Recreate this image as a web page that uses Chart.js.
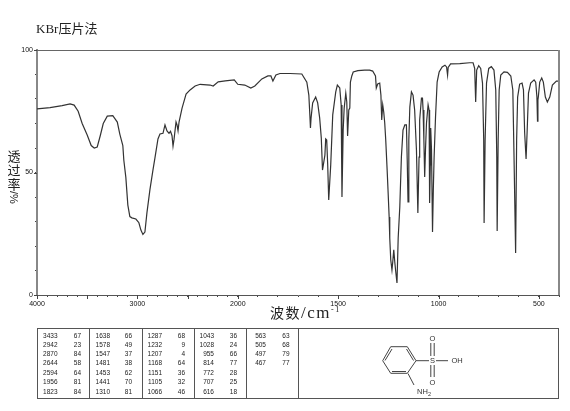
<!DOCTYPE html>
<html>
<head>
<meta charset="utf-8">
<style>
    html, body { margin: 0; padding: 0; background: #fff; }
    #page { position: relative; width: 570px; height: 411px; overflow: hidden; }
    #chartCanvas { position: absolute; left: 0; top: 0; }
    .label { position: absolute; color: #222; white-space: nowrap; font-family: "Liberation Serif", "Noto Sans CJK SC", serif; }
    #title { left: 36px; top: 20px; font-size: 13px; line-height: 18px; }
    #yTitle { left: 7px; top: 149px; width: 14px; font-size: 13px; line-height: 14px; text-align: center; font-family: "Noto Sans CJK SC", sans-serif; }
    #yTitle span { display: block; }
    #yTitle .turned { writing-mode: vertical-rl; line-height: 14px; font-size: 11px; font-family: "Liberation Sans", sans-serif; }
    #xTitle { left: 270px; top: 304px; font-size: 14px; line-height: 18px; letter-spacing: 1.5px; }
    #xTitle .unit { font-size: 17px; }
    #xTitle sup { font-size: 8px; line-height: 0; }
    .cell { position: absolute; color: #222; font: 6.5px/9px "Liberation Sans", sans-serif; text-align: right; }
    .rule { position: absolute; background: #555; }
    #molecule { position: absolute; left: 0; top: 0; }
    #molecule text { font: 7.5px "Liberation Sans", sans-serif; fill: #333; text-anchor: middle; }
</style>
</head>
<body>
<div id="page">
    <canvas id="chartCanvas" width="570" height="411"></canvas>
    <div class="label" id="title">KBr压片法</div>
    <div class="label" id="yTitle"><span>透</span><span>过</span><span>率</span><span class="turned">/%</span></div>
    <div class="label" id="xTitle">波数<span class="unit">/cm</span><sup>-1</sup></div>
    <svg id="molecule" width="570" height="411" stroke="#444" stroke-width="1" fill="none">
        <path d="M390.7 346.7L407.3 346.7L416 360.7L407.3 373.3L390.7 373.3L382.7 360.7Z"/>
        <path d="M392 349L385 360.5M392 371.5L406 371.5M406.5 349L413.5 360.5"/>
        <path d="M416 360.7H429M436 360.7H448M430.8 356V343M434.2 356V343M430.8 365V377M434.2 365V377M408 373.5L414 385"/>
        <g stroke="none">
            <text x="432.5" y="363">S</text>
            <text x="457" y="363">OH</text>
            <text x="432.5" y="340.5">O</text>
            <text x="432.5" y="385">O</text>
            <text x="424" y="393.5">NH<tspan font-size="5.5" dy="2">2</tspan></text>
        </g>
    </svg>
</div>

<script src="https://cdn.jsdelivr.net/npm/chart.js@4"></script>
<script>
// Spectrum trace
const wavenumbers = [
    4000, 3870, 3750, 3670, 3630, 3590, 3550, 3500, 3460, 3430, 3400, 3370, 3340, 3300, 3245, 3200,
    3175, 3145, 3135, 3115, 3095, 3075, 3055, 3015, 2985, 2965, 2945, 2925, 2905, 2875, 2845, 2825,
    2795, 2775, 2745, 2725, 2705, 2685, 2670, 2655, 2645, 2635, 2615, 2605, 2595, 2585, 2555, 2515,
    2475, 2425, 2375, 2275, 2245, 2195, 2125, 2035, 2000, 1965, 1935, 1915, 1880, 1850, 1835, 1825,
    1810, 1790, 1765, 1740, 1681, 1656, 1646, 1641, 1638, 1635, 1627, 1612, 1602, 1592, 1584, 1578,
    1566, 1562, 1557, 1552, 1547, 1537, 1527, 1512, 1504, 1492, 1485, 1481, 1475, 1470, 1462, 1457,
    1453, 1447, 1442, 1439, 1432, 1425, 1402, 1368, 1343, 1328, 1314, 1310, 1303, 1293, 1287, 1283,
    1278, 1273, 1268, 1263, 1256, 1251, 1246, 1243, 1238, 1232, 1228, 1223, 1218, 1213, 1207, 1201,
    1193, 1185, 1177, 1168, 1160, 1156, 1152, 1148, 1143, 1135, 1127, 1119, 1110, 1103, 1097, 1094,
    1085, 1080, 1077, 1073, 1069, 1065, 1060, 1052, 1047, 1045, 1044, 1041, 1039, 1035, 1030, 1026,
    1022, 1015, 1007, 997, 982, 968, 960, 955, 952, 940, 894, 845, 828, 820, 815, 810,
    800, 790, 781, 775, 773, 768, 761, 750, 737, 724, 715, 710, 708, 703, 698, 690,
    674, 657, 640, 630, 624, 616, 611, 606, 596, 584, 577, 571, 564, 559, 552, 541,
    524, 516, 510, 507, 505, 503, 496, 486, 478, 468, 458, 446, 433, 413, 400
];
const transmittance = [
    76, 76.5, 77.3, 78, 77.5, 75, 70, 65.3, 61, 60, 60.4, 65, 70, 73, 73.2, 70.6,
    65.7, 61, 55, 48, 36.7, 32, 31.5, 31, 29.5, 26.5, 24.7, 25.7, 33.5, 43, 51, 56,
    63.7, 65.7, 66, 69.4, 67, 66, 66.8, 65, 60.8, 63.5, 70.6, 69.4, 67, 70.6, 76.3, 82,
    83.7, 85.3, 86, 85.7, 85.3, 87, 87.4, 87.8, 86, 85.7, 84.5, 85.3, 88.2, 89.4, 89.4, 87.3,
    89.8, 90.4, 90.4, 90.4, 90.2, 86.9, 81.6, 73.5, 68.2, 72.2, 78.4, 80.8, 78.4, 72.2, 64.1, 51,
    57.1, 63.7, 63.3, 53, 38.8, 53.1, 73.5, 82.9, 85.7, 84.5, 77.6, 40, 67.3, 76.3, 82.4, 78.8,
    64.9, 75.5, 76.3, 86.9, 89.4, 91, 91.6, 91.8, 91.8, 91.4, 89.4, 84.5, 86.1, 86.5, 81.6, 71.4,
    77.6, 74.7, 70.2, 63.3, 51, 41.6, 31.8, 23.3, 14.3, 10.2, 13.5, 18.4, 13.5, 9.4, 4.9, 23.3,
    35.9, 56.3, 67.3, 69.4, 69.4, 55.1, 38, 63.3, 76.7, 82.9, 81.6, 75.5, 59.2, 33.5, 56.3, 71.4,
    80.4, 80.4, 75.5, 63.3, 48.2, 59.2, 70.2, 77.6, 75.5, 59.2, 37.6, 53.1, 68.2, 59.2, 25.7, 42.9,
    56.3, 72.7, 86.9, 91, 93.1, 93.8, 93.1, 89.8, 92.9, 94.3, 94.4, 94.8, 94.8, 92.5, 78.8, 91.8,
    93.6, 92.5, 86.5, 63.3, 29.4, 63.3, 86.5, 92.5, 93.2, 91.8, 83.7, 56.3, 26.1, 63.3, 83.7, 89.8,
    91.1, 90.9, 89.4, 83.7, 56.3, 17.1, 63.3, 80.8, 86.1, 86.5, 83.7, 66.1, 55.5, 66.1, 82.4, 86.5,
    87.8, 86.9, 80.8, 71, 79.6, 80.8, 86.9, 88.6, 86.9, 80.8, 78.8, 80.8, 85.7, 87.3, 87.3
];

// Axis labels
const xLabels = [4000, 3000, 2000, 1500, 1000, 500];
const yLabels = [0, 50, 100];
const xLongTicks = [4000, 3500, 3000, 2500, 2000, 1500, 1000, 500];
const yTickValues = [0, 10, 20, 30, 40, 50, 60, 70, 80, 90, 100];
const xTickValues = [];
for (let v = 4000; v >= 400; v -= 100) xTickValues.push(v);

// Peak table
const peakColumns = [
    [3433, 2942, 2870, 2644, 2594, 1956, 1823],
    [1638, 1578, 1547, 1481, 1453, 1441, 1310],
    [1287, 1232, 1207, 1168, 1151, 1105, 1066],
    [1043, 1028, 955, 814, 772, 707, 616],
    [563, 505, 497, 467]
];
const peakValues = [
    [67, 23, 84, 58, 64, 81, 84],
    [66, 49, 37, 38, 62, 70, 81],
    [68, 9, 4, 64, 36, 32, 46],
    [36, 24, 66, 77, 28, 25, 18],
    [63, 68, 79, 77]
];

const page = document.getElementById('page');

function addRule(left, top, width, height) {
    const el = document.createElement('div');
    el.className = 'rule';
    el.style.cssText = `left:${left}px;top:${top}px;width:${width}px;height:${height}px`;
    page.appendChild(el);
}

function addCell(text, right, centerY) {
    const el = document.createElement('div');
    el.className = 'cell';
    el.textContent = text;
    el.style.cssText = `left:${right - 30}px;width:30px;top:${centerY - 4.5}px`;
    page.appendChild(el);
}

// Table frame and text
addRule(37, 328, 522, 1);
addRule(37, 398, 522, 1);
[37, 89, 142, 194, 246, 298, 558].forEach(x => addRule(x, 328, 1, 71));

const numberRights = [57.5, 110, 162, 214, 266];
const valueRights = [81, 132, 185, 237, 289.5];
const rowCenters = [335, 344.3, 353.5, 362.5, 372, 381.5, 391];
peakColumns.forEach((column, c) => {
    column.forEach((peak, r) => {
        addCell(peak, numberRights[c], rowCenters[r]);
        addCell(peakValues[c][r], valueRights[c], rowCenters[r]);
    });
});

// x axis runs 2x compressed above 2000 cm-1, so it needs its own scale
class WavenumberScale extends Chart.LinearScale {
    static id = 'wavenumber';
    static defaults = Chart.LinearScale.defaults;
    getPixelForValue(value) {
        const pos = value >= 2000 ? (4000 - value) / 2 : 1000 + (2000 - value);
        return this.left + this.width * pos / 2600;
    }
    buildTicks() {
        return xTickValues.map(v => ({ value: v }));
    }
}
Chart.register(WavenumberScale);

// Frame around the plot and the longer tick marks
const framePlugin = {
    id: 'frame',
    afterDraw(chart) {
        const { ctx, chartArea, scales } = chart;
        ctx.save();
        ctx.strokeStyle = '#666';
        ctx.lineWidth = 1;
        ctx.beginPath();
        ctx.moveTo(chartArea.left, chartArea.top + 0.5);
        ctx.lineTo(chartArea.right, chartArea.top + 0.5);
        ctx.stroke();
        ctx.strokeStyle = '#888';
        ctx.lineWidth = 2;
        ctx.beginPath();
        ctx.moveTo(chartArea.right, chartArea.top);
        ctx.lineTo(chartArea.right, chartArea.bottom);
        ctx.stroke();
        ctx.strokeStyle = '#444';
        ctx.lineWidth = 1;
        ctx.beginPath();
        xLongTicks.forEach(v => {
            const x = Math.round(scales.x.getPixelForValue(v)) + 0.5;
            ctx.moveTo(x, chartArea.bottom);
            ctx.lineTo(x, chartArea.bottom + 4);
        });
        yLabels.forEach(v => {
            const y = Math.round(scales.y.getPixelForValue(v)) + 0.5;
            ctx.moveTo(chartArea.left - 3, y);
            ctx.lineTo(chartArea.left, y);
        });
        ctx.stroke();
        ctx.restore();
    }
};

new Chart(document.getElementById('chartCanvas'), {
    type: 'line',
    data: {
        datasets: [{
            data: wavenumbers.map((wn, i) => ({ x: wn, y: transmittance[i] })),
            borderColor: '#333',
            borderWidth: 1.2,
            pointRadius: 0,
            tension: 0
        }]
    },
    options: {
        responsive: false,
        animation: false,
        layout: { padding: { top: 50, right: 11, bottom: 76, left: 0 } },
        plugins: { legend: { display: false }, tooltip: { enabled: false } },
        scales: {
            x: {
                type: 'wavenumber',
                min: 400,
                max: 4000,
                afterFit(scale) { scale.height = 40; },
                grid: { drawOnChartArea: false, tickLength: 2, tickColor: '#444' },
                border: { color: '#555', width: 1 },
                ticks: {
                    autoSkip: false,
                    maxRotation: 0,
                    padding: 3,
                    color: '#111',
                    font: { family: 'Liberation Sans', size: 7 },
                    callback: value => xLabels.includes(value) ? String(value) : ''
                }
            },
            y: {
                min: 0,
                max: 100,
                afterFit(scale) { scale.width = 37; },
                afterBuildTicks(scale) { scale.ticks = yTickValues.map(v => ({ value: v })); },
                grid: { drawOnChartArea: false, tickLength: 2, tickColor: '#444' },
                border: { color: '#888', width: 2 },
                ticks: {
                    autoSkip: false,
                    padding: 2,
                    color: '#111',
                    font: { family: 'Liberation Sans', size: 7 },
                    callback: value => yLabels.includes(value) ? String(value) : ''
                }
            }
        }
    },
    plugins: [framePlugin]
});
</script>
</body>
</html>
